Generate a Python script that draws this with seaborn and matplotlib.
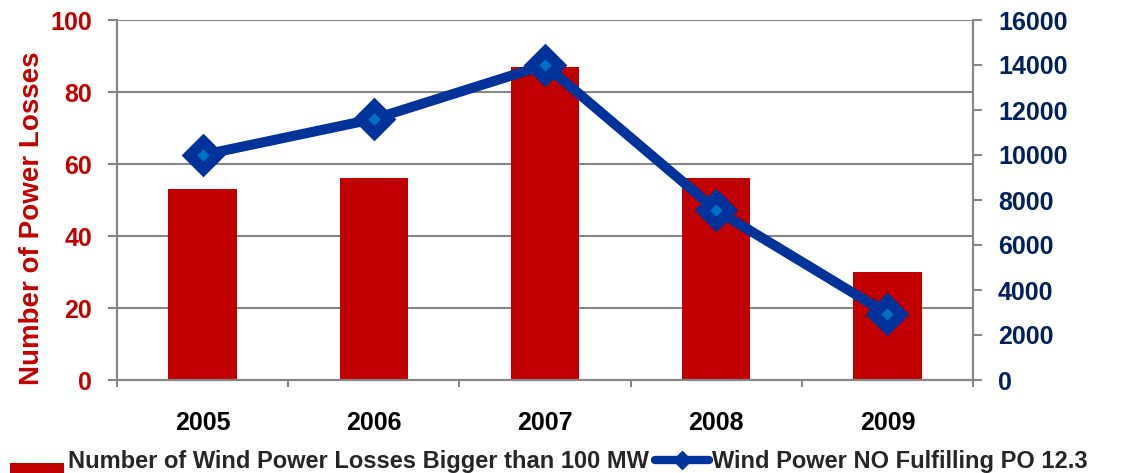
import matplotlib
matplotlib.use("Agg")
import matplotlib.pyplot as plt
from matplotlib.legend_handler import HandlerPatch
from matplotlib.lines import Line2D
from matplotlib.patches import Patch, Rectangle
from matplotlib.ticker import FixedLocator, MultipleLocator
import numpy as np
import pandas as pd
import seaborn as sns

# Data
years = ["2005", "2006", "2007", "2008", "2009"]
power_losses = [53, 56, 87, 56, 30]
wind_no_fulfilling = [10000, 11600, 14000, 7550, 2950]

bar_label = "Number of Wind Power Losses Bigger than 100 MW"
line_label = "Wind Power NO Fulfilling PO 12.3"

RED = "#C00000"
BLUE = "#003399"
LIGHT_BLUE = "#0070C0"
NAVY = "#002060"
GRAY = "#868686"

sns.set_theme(style="white")
plt.rcParams["font.family"] = ["Liberation Sans", "DejaVu Sans"]
plt.rcParams["font.weight"] = "bold"

df = pd.DataFrame({"year": years, "losses": power_losses, "mw": wind_no_fulfilling})

W, H = 1121, 473
fig = plt.figure(figsize=(W / 100, H / 100), dpi=100)
ax = fig.add_axes([117 / W, 1 - 380 / H, (973 - 117) / W, 360 / H])

sns.barplot(data=df, x="year", y="losses", color=RED, saturation=1, width=0.4,
            ax=ax, edgecolor="none")

ax2 = ax.twinx()
sns.pointplot(data=df, x="year", y="mw", color=BLUE, markers="D", ax=ax2,
              linewidth=7.2, markersize=14, markeredgewidth=8)
for ln in ax2.lines:
    ln.set_markerfacecolor(LIGHT_BLUE)
    ln.set_markeredgecolor(BLUE)
    ln.set_solid_joinstyle("round")
    ln.set_solid_capstyle("round")

# Axes ranges
ax.set_xlim(-0.5, len(years) - 0.5)
ax2.set_xlim(-0.5, len(years) - 0.5)
ax.set_ylim(0, 100)
ax2.set_ylim(0, 16000)
ax.yaxis.set_major_locator(MultipleLocator(20))
ax2.yaxis.set_major_locator(MultipleLocator(2000))

# Grid and spines
ax.set_axisbelow(True)
ax.grid(axis="y", color=GRAY, linewidth=1.5)
ax.grid(axis="x", visible=False)
ax2.grid(False)
for a in (ax, ax2):
    for sp in a.spines.values():
        sp.set_color(GRAY)
        sp.set_linewidth(1.5)
    a.spines["top"].set_visible(False)

# Tick styling
ax.tick_params(axis="y", which="major", direction="out", length=6.5, width=1.5,
               color=GRAY, pad=11.5, labelsize=18, labelcolor=RED, left=True)
ax2.tick_params(axis="y", which="major", direction="out", length=6.5, width=1.5,
                color=GRAY, pad=11.5, labelsize=18, labelcolor=NAVY, right=True)
for lab in ax.get_yticklabels() + ax2.get_yticklabels():
    lab.set_fontweight("bold")

ax.xaxis.set_minor_locator(FixedLocator(np.arange(-0.5, len(years), 1.0)))
ax.tick_params(axis="x", which="minor", direction="out", length=5, width=1.5,
               color=GRAY, bottom=True)
ax.tick_params(axis="x", which="major", length=0, pad=22, labelsize=18,
               labelcolor="black")
for lab in ax.get_xticklabels():
    lab.set_fontweight("bold")
ax2.tick_params(axis="x", which="both", length=0, labelbottom=False)

ax.set_xlabel("")
ax2.set_xlabel("")
ax2.set_ylabel("")
ax.set_ylabel("Number of Power Losses", fontsize=20, fontweight="bold", color=RED)
ax.yaxis.set_label_coords(45 / W, 1 - 218 / H, transform=fig.transFigure)


# Legend along the bottom edge; the bar swatch sits a little below the text
def low_swatch(legend, orig_handle, xdescent, ydescent, width, height, fontsize):
    return Rectangle((-xdescent, -ydescent - 7), width, height - 1)


bar_handle = Patch(facecolor=RED, edgecolor="none")
line_handle = Line2D([], [], color=BLUE, linewidth=6, marker="D", markersize=9,
                     markerfacecolor=BLUE, markeredgecolor=BLUE,
                     solid_capstyle="round")
fig.legend([bar_handle, line_handle], [bar_label, line_label], loc="center left",
           bbox_to_anchor=(10 / W, 1 - 461 / H), ncol=2, frameon=False,
           prop={"family": ["Liberation Sans", "DejaVu Sans"],
                 "weight": "bold", "size": 17},
           handlelength=2.3, handletextpad=0.15, columnspacing=0.25,
           borderpad=0, borderaxespad=0, handleheight=0.6,
           handler_map={Patch: HandlerPatch(patch_func=low_swatch)})

fig.savefig("out.png", dpi=100)
